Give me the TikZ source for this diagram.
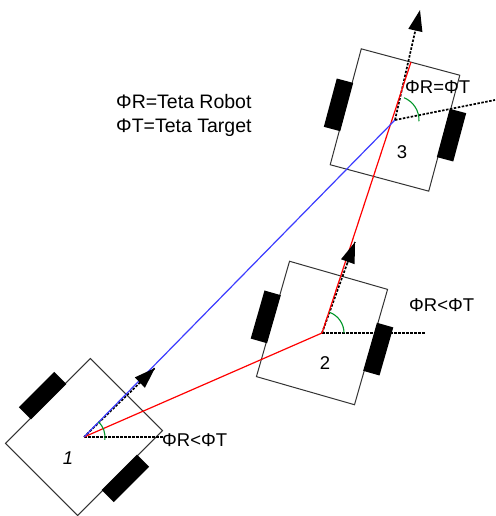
\documentclass[tikz,border=0pt]{standalone}
\usepackage{fontspec}
\setmainfont{Liberation Sans}
\usetikzlibrary{arrows.meta}
\definecolor{lineblue}{RGB}{60,60,255}
\definecolor{arcgreen}{RGB}{0,150,40}
\begin{document}
\begin{tikzpicture}[x=1pt,y=1pt,
    body/.style={draw=black!80,line width=1pt},
    wheel/.style={fill=black},
    axisline/.style={line width=1.7pt,dash pattern=on 2.5pt off 1.5pt},
    heading/.style={axisline,-{Triangle[length=21pt,width=14pt]}},
    tiponly/.style={line width=1.7pt,-{Triangle[length=21pt,width=14pt]}},
    anglearc/.style={arcgreen,line width=1.1pt},
    path/.style={line width=1.2pt},
    lbl/.style={inner sep=0pt,font=\fontsize{18.5}{24}\selectfont}]
    \useasboundingbox (0,0) rectangle (495,516);

    % центры роботов
    \coordinate (r1) at (84,79);
    \coordinate (r2) at (322,183);
    \coordinate (r3) at (395,396);
    \coordinate (h1) at (155,148);
    \coordinate (h2) at (355,274);
    \coordinate (h3) at (420,506);
    \coordinate (e1) at (163,79);
    \coordinate (e2) at (426,183);
    \coordinate (e3) at (495,416);
    \coordinate (t3) at (411,454);

    % роботы
    \begin{scope}[shift={(r1)},rotate=-45]
        \draw[body] (-51,-60) rectangle (51,60);
        \fill[wheel] (-67,-25) rectangle (-50,25);
        \fill[wheel] (50,-25) rectangle (67,25);
    \end{scope}
    \begin{scope}[shift={(r2)},rotate=-16]
        \draw[body] (-51,-60) rectangle (51,60);
        \fill[wheel] (-67,-25) rectangle (-50,25);
        \fill[wheel] (50,-25) rectangle (67,25);
    \end{scope}
    \begin{scope}[shift={(r3)},rotate=-15]
        \draw[body] (-51,-60) rectangle (51,60);
        \fill[wheel] (-67,-25) rectangle (-50,25);
        \fill[wheel] (50,-25) rectangle (67,25);
    \end{scope}

    % оси
    \draw[axisline] (r1) -- (e1);
    \draw[axisline] (r2) -- (e2);
    \draw[axisline] (r3) -- (e3);
    \draw[axisline] (r1) -- (h1);
    \draw[axisline] (r2) -- (h2);
    \draw[heading] (r3) -- (h3);

    % траектория
    \draw[red,path] (r1) -- (r2);
    \draw[red,path] (r2) -- (t3);
    \draw[lineblue,path] (r1) -- (r3);
    \draw[tiponly] (h1) ++(224:22) -- (h1);
    \draw[tiponly] (h2) ++(250:22) -- (h2);

    % углы
    \draw[anglearc] (r1) ++(-8:21) arc[start angle=-8,end angle=46,radius=21];
    \draw[anglearc] (r2) ++(0:22) arc[start angle=0,end angle=71,radius=22];
    \draw[anglearc] (r3) ++(-3:24) arc[start angle=-3,end angle=68,radius=24];

    % подписи
    \node[lbl,anchor=west,align=left,font=\fontsize{19.5}{24}\selectfont] (legend) at (116,401)
        {ΦR=Teta Robot\\ΦT=Teta Target};
    \node[lbl,anchor=west] (cmp1) at (162,76) {ΦR<ΦT};
    \node[lbl,anchor=west] (cmp2) at (409,211) {ΦR<ΦT};
    \node[lbl,anchor=west] (cmp3) at (405,429) {ΦR=ΦT};
    \node[lbl,font=\fontsize{18.5}{24}\selectfont\itshape] (n1) at (68,58) {1};
    \node[lbl] (n2) at (325,153) {2};
    \node[lbl] (n3) at (402,364) {3};
\end{tikzpicture}
\end{document}
